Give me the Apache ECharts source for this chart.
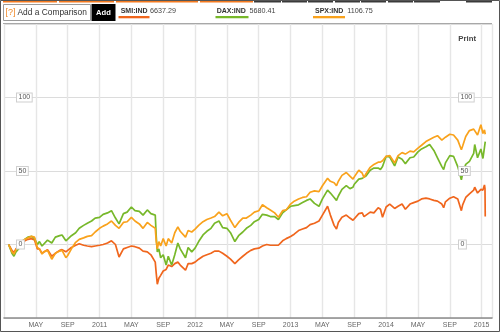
<!DOCTYPE html>
<html><head><meta charset="utf-8">
<script src="https://cdn.jsdelivr.net/npm/echarts@6/dist/echarts.min.js"></script>
<style>html,body{margin:0;padding:0;background:#fff}#c{width:500px;height:332px}</style>
</head><body><div id="c"></div>
<script>
// ---- data (percent change since start) ----
const dates = [
'2010-01-19','2010-02-01','2010-02-08','2010-02-15','2010-03-01','2010-03-15','2010-04-01','2010-04-15','2010-04-26','2010-05-07',
'2010-05-15','2010-05-25','2010-06-01','2010-06-15','2010-07-01','2010-07-15','2010-08-01','2010-08-10','2010-08-25','2010-09-01',
'2010-09-15','2010-10-01','2010-10-15','2010-11-01','2010-11-15','2010-12-01','2010-12-15','2011-01-01','2011-01-15','2011-02-01',
'2011-02-15','2011-03-01','2011-03-15','2011-04-01','2011-04-15','2011-05-01','2011-05-15','2011-06-01','2011-06-15','2011-07-01',
'2011-07-15','2011-08-01','2011-08-05','2011-08-09','2011-08-15','2011-08-22','2011-09-01','2011-09-12','2011-09-20','2011-10-03',
'2011-10-15','2011-10-27','2011-11-05','2011-11-25','2011-12-05','2011-12-19','2012-01-01','2012-01-15','2012-02-01','2012-02-15',
'2012-03-01','2012-03-15','2012-04-01','2012-04-15','2012-05-01','2012-05-15','2012-06-01','2012-06-15','2012-07-01','2012-07-15',
'2012-08-01','2012-08-15','2012-09-01','2012-09-15','2012-10-01','2012-10-15','2012-11-01','2012-11-15','2012-12-01','2012-12-15',
'2013-01-01','2013-01-15','2013-02-01','2013-02-15','2013-03-01','2013-03-15','2013-04-01','2013-04-18','2013-05-01','2013-05-21',
'2013-06-01','2013-06-15','2013-06-24','2013-07-01','2013-07-15','2013-08-01','2013-08-15','2013-08-27','2013-09-01','2013-09-18',
'2013-10-01','2013-10-08','2013-10-15','2013-11-01','2013-11-15','2013-12-01','2013-12-10','2013-12-18','2014-01-01','2014-01-15',
'2014-02-03','2014-02-15','2014-03-01','2014-03-14','2014-04-01','2014-04-15','2014-05-01','2014-05-15','2014-06-01','2014-06-15',
'2014-07-01','2014-07-15','2014-08-01','2014-08-08','2014-08-15','2014-09-01','2014-09-15','2014-10-01','2014-10-15','2014-10-20',
'2014-11-01','2014-11-15','2014-12-01','2014-12-05','2014-12-16','2014-12-29','2015-01-06','2015-01-12','2015-01-14','2015-01-15'
];
const spxValues = [
0,-5,-6.5,-3.5,0,3,4.5,5.5,5,-2,
-3,-6.5,-5,-4,-10,-6,-4.5,-4,-9,-7.5,
-3,1.5,3.5,4.5,5.5,6,8.5,11,12.5,14,
16,13,11,15,15.5,18.5,16,14,11,15,
13,11,2,-3,2,-1,4,-1,4,1,
8,12,9,5,9.5,8.5,10.5,13,15.5,17,
18,19,22,19.5,21,16.5,11.5,15,18,18,
20,22,23,27,25,23.5,21.5,18.5,23,23.5,
27.5,29.5,31,32,32.5,35.5,36.5,36,40,45,
43,42,40,43,47,49,46.5,44.5,46,50.5,
48.5,45.5,48,52.5,54.5,56,56,57,60,60.5,
55.5,60.5,62.5,61.5,63.5,63,65.5,67.5,70,71.5,
73,74,71,70,73,75,74.5,71,64.5,67,
73.5,77.5,78.5,79,74.5,81.5,75.5,78,76,75
];
const daxValues = [
0,-6,-8,-5,-2,3,5,5.5,4,0,
2,-1,0,3,1,5,6,6.5,2.5,3,
6,8,11,13,14.5,16,18,18.5,20.5,21.5,
23,18,14,21,22,25.5,23,22.5,20,23.5,
21,20,5,-5,-3,-9,-7,-14,-8,-14,
-7,1,-3,-9,-2,-5,-2.5,2,6.5,9,
11,14.5,16,11.5,11,8,2,6,8.5,11,
13,15.5,17,20.5,20,19,19,17,21.5,23.5,
26,26.5,27,28.5,30,31,28,26,31,37,
35,32,30,33,37.5,40,38,39,41,44.5,
45,44.5,46.5,50.5,52,52,51,53,60,59.5,
53.5,59.5,58,55,59,59.5,63,65,66.5,68,
64,59,53,51,55.5,60.5,60,53,44,48,
54.5,56.5,62,68,59,65,58.5,66,67,70
];
const smiValues = [
0,-4,-5.5,-3,-0.5,2,3.5,4,3,-3,
-3,-6,-5,-3.5,-8,-6,-4,-3.5,-5,-4.5,
-2,-0.5,0.5,-0.5,-1,-1.5,-1,-0.5,0,1,
2.5,0,-8.5,-3,-2,-1,-1.5,-2.5,-4.5,-5,
-7,-12,-20,-27,-23,-21,-18,-17,-14,-15,
-13,-12,-14,-17.5,-13,-13,-12,-10,-8,-7,
-6,-4.5,-4.5,-6,-8,-10,-13,-10.5,-8,-6,
-4,-3,-2.5,-1,0,-0.5,-0.5,-0.5,2.5,4,
5.5,7,9.5,10.5,11.5,13.5,14.5,16,20,26,
20,13,10.5,15,18.5,20,18,16.5,17.5,21,
21.5,19,19.5,22,21.5,25,24,18.5,25.5,27.5,
24.5,26,27.5,24,27.5,28.5,29.5,31,31.5,31,
30,29.5,27.5,25,29,31.5,32.5,31,23,27,
32,34.5,37,39,35,37.5,37,40.5,38,19
];
const seriesNames = ['SMI:IND', 'DAX:IND', 'SPX:IND'];
const seriesQuotes = ['6637.29', '5680.41', '1106.75'];
const yTickLabels = [0, 50, 100];
const monthTickNames = { 4: 'MAY', 8: 'SEP' };
const firstYear = 2010;

// ---- styles ----
const colors = ['#f0661d', '#77b82a', '#f9a21c'];
const FONT = 'Liberation Sans, Arial, sans-serif';

function monthIndex(s) {
  const p = s.split('-').map(Number);
  const dim = new Date(Date.UTC(p[0], p[1], 0)).getUTCDate();
  return (p[0] - firstYear) * 12 + (p[1] - 1) + (p[2] - 1) / dim;
}
function toSeries(vals) { return dates.map((d, i) => [monthIndex(d), vals[i]]); }

const chart = echarts.init(document.getElementById('c'), null, { renderer: 'canvas' });

const yLabelStyle = {
  inside: true, fontSize: 7, color: '#555', fontFamily: FONT,
  backgroundColor: '#fff', borderColor: '#cfcfcf', borderWidth: 1, padding: [1, 1.5, 0, 1.5],
  showMinLabel: false, showMaxLabel: false,
  formatter: v => (yTickLabels.indexOf(v) >= 0 ? String(v) : '')
};
function labelAxis(pos, extra) {
  return {
    type: 'value', position: pos, offset: 0, min: -50, max: 150, interval: 50, z: 10,
    axisLine: { show: false, onZero: false }, axisTick: { show: false }, splitLine: { show: false },
    axisLabel: Object.assign(extra, yLabelStyle)
  };
}

// header graphics
const graphics = [];
const orangeSegs = [[3, 57], [59, 114], [116, 198], [200, 253]];
orangeSegs.forEach(s => graphics.push({ type: 'rect', shape: { x: s[0], y: 0, width: s[1] - s[0], height: 2.5 }, style: { fill: '#f47a20' } }));
const darkSegs = [[254, 281], [282, 307], [308, 333], [335, 360], [361, 386], [388, 413], [414, 440], [466, 492]];
darkSegs.forEach(s => graphics.push({ type: 'rect', shape: { x: s[0], y: 0, width: s[1] - s[0], height: 2.5 }, style: { fill: '#3a3a3a' } }));
graphics.push({ type: 'rect', shape: { x: 3.5, y: 4.5, width: 87, height: 16 }, style: { fill: '#fff', stroke: '#9a9a9a', lineWidth: 1 } });
graphics.push({ type: 'text', x: 5.5, y: 12.8, style: { text: '[?]', fill: '#f08a2a', font: '9px ' + FONT, verticalAlign: 'middle' } });
graphics.push({ type: 'text', x: 17.5, y: 13, style: { text: 'Add a Comparison', fill: '#333', font: '8.4px ' + FONT, verticalAlign: 'middle' } });
graphics.push({ type: 'rect', shape: { x: 91.5, y: 4, width: 24, height: 17 }, style: { fill: '#000' } });
graphics.push({ type: 'text', x: 103.5, y: 13, style: { text: 'Add', fill: '#fff', font: 'bold 7.6px ' + FONT, align: 'center', verticalAlign: 'middle' } });
const legendX = [120.7, 216.7, 315];
const quoteX = [150, 249.5, 347.3];
const underline = [[118.5, 31], [215.5, 33], [313, 32]];
seriesNames.forEach((n, i) => {
  graphics.push({ type: 'text', x: legendX[i], y: 10.8, style: { text: n, fill: '#333', font: 'bold 7px ' + FONT, verticalAlign: 'middle' } });
  graphics.push({ type: 'text', x: quoteX[i], y: 10.8, style: { text: seriesQuotes[i], fill: '#444', font: '7.2px ' + FONT, verticalAlign: 'middle' } });
  graphics.push({ type: 'rect', shape: { x: underline[i][0], y: 16, width: underline[i][1], height: 2.3 }, style: { fill: colors[i] } });
});
graphics.push({ type: 'line', shape: { x1: 3, y1: 23.5, x2: 492, y2: 23.5 }, style: { stroke: '#a8a8a8', lineWidth: 1 } });
graphics.push({ type: 'text', x: 458.3, y: 38.8, style: { text: 'Print', fill: '#444', font: 'bold 7.8px ' + FONT, verticalAlign: 'middle' } });
graphics.push({ type: 'rect', shape: { x: 0.5, y: 0.5, width: 499, height: 331 }, style: { fill: 'none', stroke: '#555', lineWidth: 1 }, z: 100 });

const option = {
  animation: false,
  backgroundColor: '#fff',
  grid: { left: 4, right: 8, top: 24, bottom: 14 },
  xAxis: {
    type: 'value', min: 0, max: 61.3, interval: 4,
    axisLine: { onZero: false, lineStyle: { color: '#8c8c8c', width: 1.6 } },
    axisTick: { show: false },
    splitLine: { show: true, lineStyle: { color: '#e6e6e6', width: 1.4 } },
    axisLabel: {
      fontSize: 7, color: '#666', fontFamily: FONT, margin: 3.5,
      showMinLabel: false, showMaxLabel: false,
      formatter: v => {
        if (Math.abs(v - Math.round(v)) > 1e-6) return '';
        const m = Math.round(v) % 12;
        if (m === 0) return String(firstYear + Math.round(v) / 12);
        return monthTickNames[m] || '';
      }
    }
  },
  yAxis: [
    {
      type: 'value', position: 'left', min: -50, max: 150, interval: 50,
      axisLine: { show: false, onZero: false }, axisTick: { show: false },
      splitLine: { show: true, lineStyle: { color: '#dcdcdc', width: 1 } },
      axisLabel: { show: false }
    },
    labelAxis('left', { margin: 13, align: 'left' }),
    labelAxis('right', { margin: 33, align: 'left' })
  ],
  series: [
    { name: seriesNames[0], type: 'line', data: toSeries(smiValues), showSymbol: false, lineStyle: { color: colors[0], width: 1.7 }, itemStyle: { color: colors[0] } },
    { name: seriesNames[1], type: 'line', data: toSeries(daxValues), showSymbol: false, lineStyle: { color: colors[1], width: 1.7 }, itemStyle: { color: colors[1] } },
    { name: seriesNames[2], type: 'line', data: toSeries(spxValues), showSymbol: false, lineStyle: { color: colors[2], width: 1.7 }, itemStyle: { color: colors[2] } }
  ],
  graphic: graphics
};
chart.setOption(option);
</script>
</body></html>
